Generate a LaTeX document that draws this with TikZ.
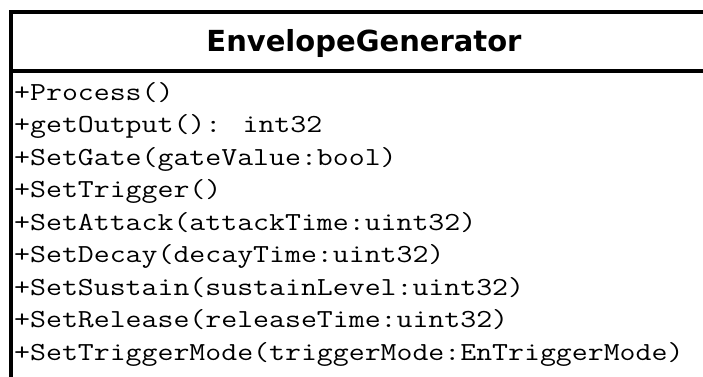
\documentclass[tikz,border=0pt]{standalone}
\usepackage{fontspec}
\usepackage{graphicx}
\newfontfamily\classtitlefont{DejaVu Sans}
% widened typewriter face for the operation lines
\newcommand{\opline}[1]{\scalebox{1.19}[1]{#1}}
\begin{document}
\begin{tikzpicture}[x=1pt,y=1pt,
  frame/.style={draw=black,line width=4pt},
  classname/.style={inner sep=0pt,anchor=base,font=\classtitlefont\bfseries\fontsize{29}{34}\selectfont},
  member/.style={inner sep=0pt,anchor=base west,font=\ttfamily\fontsize{26}{30}\selectfont}]
\useasboundingbox (0,0) rectangle (703,-376);
\clip (0,0) rectangle (703,-376);
% class box: outer frame and the line under the name compartment
\draw[frame] (11,-12) rectangle (722,-430);
\draw[frame] (11,-71) -- (722,-71);
\node[classname] (title) at (364,-51) {EnvelopeGenerator};
% operations
\foreach \txt [count=\i] in {
  +Process(),
  +getOutput(): int32,
  +SetGate(gateValue:bool),
  +SetTrigger(),
  +SetAttack(attackTime:uint32),
  +SetDecay(decayTime:uint32),
  +SetSustain(sustainLevel:uint32),
  +SetRelease(releaseTime:uint32),
  +SetTriggerMode(triggerMode:EnTriggerMode)}
  \node[member] (m\i) at (14,{-100-32.5*(\i-1)}) {\opline{\txt}};
\end{tikzpicture}
\end{document}
